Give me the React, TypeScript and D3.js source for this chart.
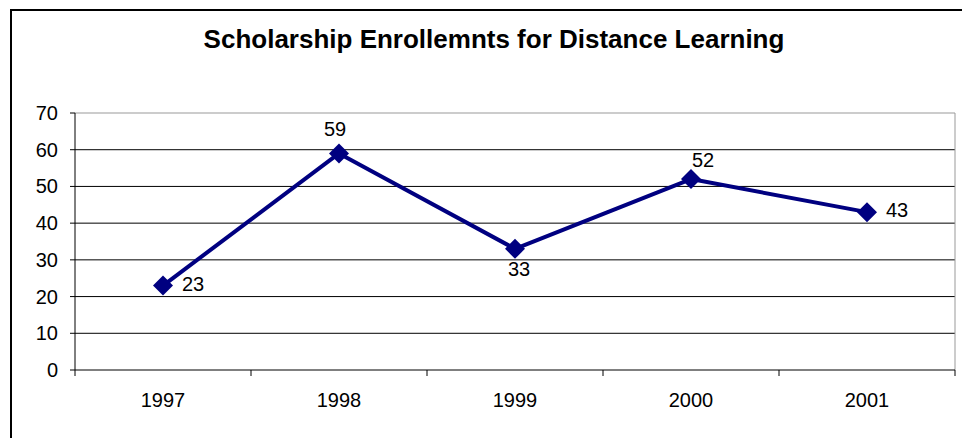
import React from "react";
import * as d3 from "d3";

const categories = ["1997", "1998", "1999", "2000", "2001"];
const values = [23, 59, 33, 52, 43];
const yTicks = [0, 10, 20, 30, 40, 50, 60, 70];
const labelPos = ["right", "above", "below", "aboveRight", "right"];
const title = "Scholarship Enrollemnts for Distance Learning";

export default function App() {
  const W = 962, H = 438;
  const left = 75, right = 955, top = 113, bottom = 370;
  const x = d3.scaleBand().domain(categories).range([left, right]);
  const y = d3.scaleLinear().domain([0, 70]).range([bottom, top]);
  const line = d3.line<number>()
    .x((_, i) => x(categories[i])! + x.bandwidth() / 2)
    .y((d) => y(d));
  const font = "Arial, 'Liberation Sans', sans-serif";
  const ms = 10;
  return (
    <svg width={W} height={H} style={{ position: "absolute", left: 0, top: 0, background: "#fff" }}>
      <rect x={11} y={10} width={1000} height={500} fill="#fff" stroke="#000" strokeWidth={2} />
      <text x={494} y={48} textAnchor="middle" fontFamily={font} fontWeight="bold" fontSize={26}>{title}</text>
      {yTicks.slice(1).map((t) => (
        <line key={t} x1={left} x2={right} y1={y(t)} y2={y(t)} stroke={t === 70 ? "#999" : "#000"} strokeWidth={1} />
      ))}
      <line x1={right} x2={right} y1={top} y2={bottom} stroke="#999" strokeWidth={1} />
      <line x1={left} x2={left} y1={top} y2={bottom} stroke="#000" strokeWidth={1} />
      <line x1={left} x2={right} y1={bottom} y2={bottom} stroke="#000" strokeWidth={1} />
      {yTicks.map((t) => (
        <g key={t}>
          <line x1={left - 5} x2={left} y1={y(t)} y2={y(t)} stroke="#000" />
          <text x={58} y={y(t) + 7} textAnchor="end" fontFamily={font} fontSize={20}>{t}</text>
        </g>
      ))}
      {categories.map((c, i) => (
        <g key={c}>
          <line x1={x(c)!} x2={x(c)!} y1={bottom} y2={bottom + 6} stroke="#000" />
          {i === categories.length - 1 && (
            <line x1={right} x2={right} y1={bottom} y2={bottom + 6} stroke="#000" />
          )}
          <text x={x(c)! + x.bandwidth() / 2} y={bottom + 37} textAnchor="middle" fontFamily={font} fontSize={20}>{c}</text>
        </g>
      ))}
      <path d={line(values)!} fill="none" stroke="#000080" strokeWidth={4} strokeLinejoin="round" />
      {values.map((v, i) => {
        const cx = x(categories[i])! + x.bandwidth() / 2;
        const cy = y(v);
        const pos = labelPos[i];
        let lx = cx, ly = cy, anchor: any = "middle";
        if (pos === "right") { lx = cx + 19; anchor = "start"; ly = cy + 5; }
        else if (pos === "above") { lx = cx - 4; ly = cy - 17; }
        else if (pos === "below") { lx = cx + 4; ly = cy + 27; }
        else if (pos === "aboveRight") { lx = cx + 1; anchor = "start"; ly = cy - 12; }
        return (
          <g key={i}>
            <path d={`M${cx},${cy - ms}L${cx + ms},${cy}L${cx},${cy + ms}L${cx - ms},${cy}Z`} fill="#000080" />
            <text x={lx} y={ly} textAnchor={anchor} fontFamily={font} fontSize={20}>{v}</text>
          </g>
        );
      })}
    </svg>
  );
}
